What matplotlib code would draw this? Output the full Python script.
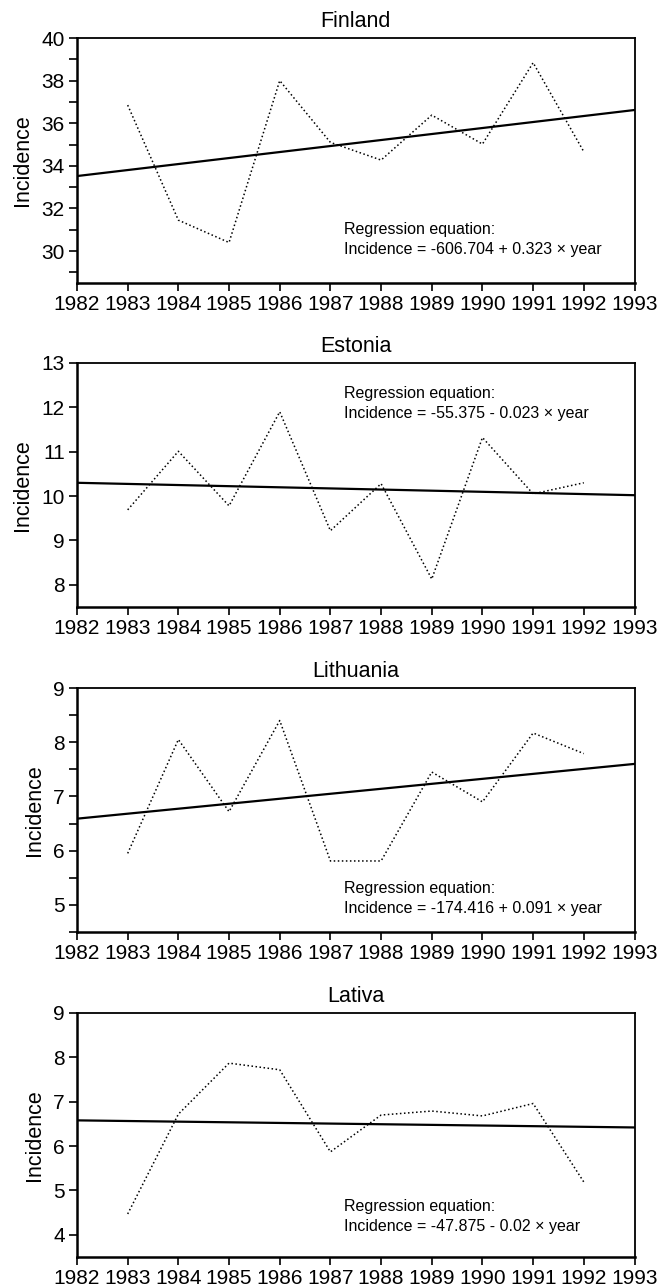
import numpy as np
import matplotlib.pyplot as plt
from matplotlib.ticker import MultipleLocator

years = np.arange(1983, 1993)
countries = ['Finland', 'Estonia', 'Lithuania', 'Lativa']

finland = [36.85, 31.45, 30.4, 38.0, 35.1, 34.27, 36.38, 35.02, 38.84, 34.66]
estonia = [9.69, 11.01, 9.78, 11.9, 9.22, 10.28, 8.13, 11.32, 10.05, 10.3]
lithuania = [5.95, 8.05, 6.72, 8.4, 5.81, 5.81, 7.45, 6.9, 8.17, 7.79]
latvia = [4.47, 6.72, 7.87, 7.72, 5.87, 6.7, 6.79, 6.68, 6.96, 5.19]

# regression line read at 1982 and 1993
line_years = [1982, 1993]
finland_line = [33.52, 36.62]
estonia_line = [10.30, 10.02]
lithuania_line = [6.59, 7.60]
latvia_line = [6.58, 6.42]

equations = ['Incidence = -606.704 + 0.323 \u00d7 year',
             'Incidence = -55.375 - 0.023 \u00d7 year',
             'Incidence = -174.416 + 0.091 \u00d7 year',
             'Incidence = -47.875 - 0.02 \u00d7 year']

series = [finland, estonia, lithuania, latvia]
lines = [finland_line, estonia_line, lithuania_line, latvia_line]
ylims = [(28.5, 40), (7.5, 13), (4.5, 9), (3.5, 9)]
ymajor = [2, 1, 1, 1]
yminor = [1, None, 0.5, None]
text_y = [(30.99, 30.05), (12.32, 11.87), (5.31, 4.94), (4.63, 4.19)]

plt.rcParams['font.family'] = ['Liberation Sans', 'DejaVu Sans']

W, H = 658, 1288
fig = plt.figure(figsize=(W/100, H/100), dpi=100)
boxes = [(38, 283), (363, 607), (688, 932), (1013, 1257)]

for i in range(4):
	top, bot = boxes[i]
	ax = fig.add_axes([77/W, 1 - bot/H, (634.5-77)/W, (bot-top)/H])
	ax.plot(years, series[i], ':', color='black', lw=1.1)
	ax.plot(line_years, lines[i], '-', color='black', lw=1.6)
	ax.set_xlim(1982, 1993)
	ax.set_ylim(*ylims[i])
	ax.set_xticks(np.arange(1982, 1994))
	ax.yaxis.set_major_locator(MultipleLocator(ymajor[i]))
	if yminor[i]:
		ax.yaxis.set_minor_locator(MultipleLocator(yminor[i]))
	ax.tick_params(axis='both', which='both', direction='out', length=5.8, width=1.2,
		labelsize=15, pad=3, top=False, right=False)
	for s in ['left', 'bottom']:
		ax.spines[s].set_linewidth(1.8)
	for s in ['top', 'right']:
		ax.spines[s].set_linewidth(1.3)
	ax.set_title(countries[i], fontsize=15.5, pad=8)
	ax.set_ylabel('Incidence', fontsize=15.5, labelpad=6)
	ax.text(1987.27, text_y[i][0], 'Regression equation:', fontsize=11.5, va='center')
	ax.text(1987.27, text_y[i][1], equations[i], fontsize=11.5, va='center')

fig.savefig('out.png', dpi=100)
